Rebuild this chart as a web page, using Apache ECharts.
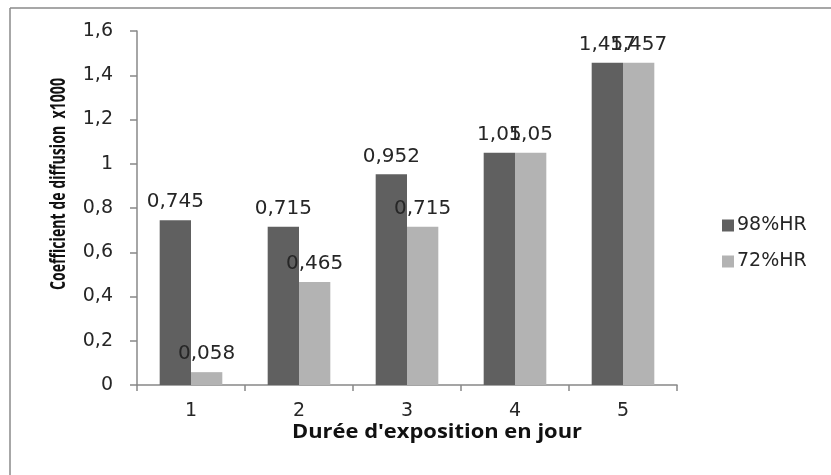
<!DOCTYPE html>
<html>
<head>
<meta charset="utf-8">
<script src="https://cdn.jsdelivr.net/npm/echarts@6/dist/echarts.min.js"></script>
<style>
  html, body { margin: 0; padding: 0; background: #fff; }
  #chart { width: 831px; height: 475px; }
</style>
</head>
<body>
<div id="chart"></div>
<script>
// Durée d'exposition (jours)
const categories = ['1', '2', '3', '4', '5'];
// Coefficient de diffusion x1000
const hr98 = [0.745, 0.715, 0.952, 1.05, 1.457];
const hr72 = [0.058, 0.465, 0.715, 1.05, 1.457];
const seriesNames = ['98%HR', '72%HR'];
const yTicks = { min: 0, max: 1.6, interval: 0.2 };

const txt = '#262626';
const axisColor = '#888888';
const labelFont = 'DejaVu Sans';

const yTitle = 'Coefficient de diffusion  x1000';
const xTitle = "Durée d'exposition en jour";
const yTitleFont = 'bold 22px "Open Sans", sans-serif';
const xTitleFont = 'bold 19px "Open Sans", sans-serif';

const frFmt = v => String(v).replace('.', ',');

// width of a string in a given font, used to fit titles to their span
function textWidth(str, font) {
  const ctx = document.createElement('canvas').getContext('2d');
  ctx.font = font;
  return ctx.measureText(str).width;
}

const chart = echarts.init(document.getElementById('chart'), null, { renderer: 'canvas' });

const barLabel = {
  show: true,
  position: 'top',
  distance: 8,
  color: txt,
  fontFamily: labelFont,
  fontSize: 20,
  formatter: p => frFmt(p.value)
};

chart.setOption({
  animation: false,
  backgroundColor: '#ffffff',
  grid: { left: 137, top: 31, right: 154, bottom: 90 },
  legend: {
    orient: 'vertical',
    left: 717,
    top: 211,
    itemWidth: 12,
    itemHeight: 12,
    itemGap: 17,
    icon: 'rect',
    textStyle: { color: txt, fontFamily: labelFont, fontSize: 19, padding: [0, 0, 0, -2] },
    data: seriesNames
  },
  xAxis: {
    type: 'category',
    data: categories,
    boundaryGap: true,
    axisLine: { lineStyle: { color: axisColor, width: 1.5 } },
    axisTick: { show: true, length: 6, alignWithLabel: false, lineStyle: { color: axisColor, width: 1.5 } },
    axisLabel: { color: txt, fontFamily: labelFont, fontSize: 19, margin: 17 },
    splitLine: { show: false }
  },
  yAxis: {
    type: 'value',
    min: yTicks.min,
    max: yTicks.max,
    interval: yTicks.interval,
    axisLine: { show: true, lineStyle: { color: axisColor, width: 1.5 } },
    axisTick: { show: true, length: 7, lineStyle: { color: axisColor, width: 1.5 } },
    axisLabel: { color: txt, fontFamily: labelFont, fontSize: 19, margin: 24, formatter: v => frFmt(Math.round(v * 10) / 10) },
    splitLine: { show: false }
  },
  series: [
    {
      name: seriesNames[0],
      type: 'bar',
      data: hr98,
      barGap: '0%',
      barCategoryGap: '42%',
      itemStyle: { color: '#606060' },
      label: barLabel
    },
    {
      name: seriesNames[1],
      type: 'bar',
      data: hr72,
      barGap: '0%',
      barCategoryGap: '42%',
      itemStyle: { color: '#b3b3b3' },
      label: barLabel
    }
  ],
  graphic: [
    // outer frame (left and top edges)
    { type: 'line', shape: { x1: 10, y1: 8, x2: 10, y2: 475 }, style: { stroke: '#8a8a8a', lineWidth: 1.5 } },
    { type: 'line', shape: { x1: 10, y1: 8, x2: 831, y2: 8 }, style: { stroke: '#8a8a8a', lineWidth: 1.5 } },
    // axis titles, fitted to their span
    {
      type: 'text',
      x: 59, y: 184,
      rotation: Math.PI / 2,
      scaleX: 212 / textWidth(yTitle, yTitleFont),
      style: {
        text: yTitle,
        fill: '#111',
        font: yTitleFont,
        align: 'center',
        verticalAlign: 'middle'
      }
    },
    {
      type: 'text',
      x: 437, y: 433,
      scaleX: 290 / textWidth(xTitle, xTitleFont),
      style: {
        text: xTitle,
        fill: '#111',
        font: xTitleFont,
        align: 'center',
        verticalAlign: 'middle'
      }
    }
  ]
});
</script>
</body>
</html>
